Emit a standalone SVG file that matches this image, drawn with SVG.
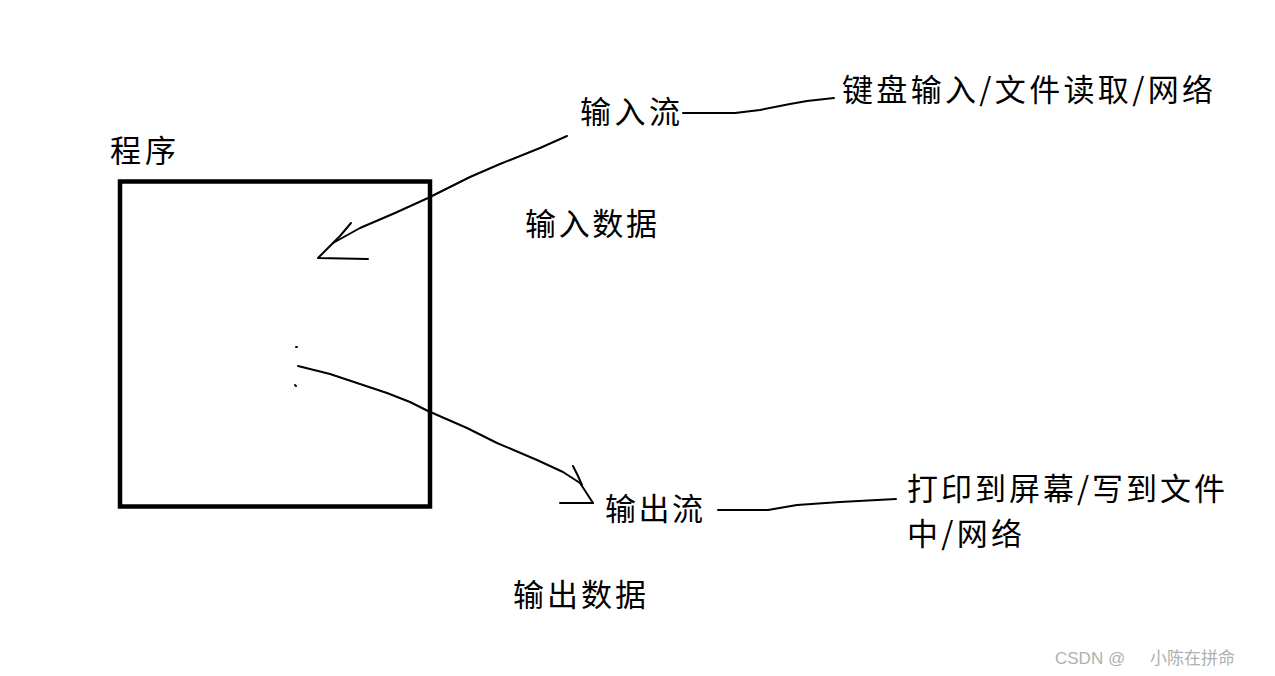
<svg xmlns="http://www.w3.org/2000/svg" width="1275" height="676" viewBox="0 0 1275 676">
<style>
.t{font-family:"Noto Sans CJK SC","Microsoft YaHei",sans-serif;font-size:31px;fill:#000}
.ln{fill:none;stroke:#000;stroke-width:2;stroke-linecap:round;stroke-linejoin:round}
.wm{font-family:"Liberation Sans","Noto Sans CJK SC",sans-serif;font-size:17px;fill:#b0b0b0}
</style>
<rect width="1275" height="676" fill="#fff"/>
<g id="program">
<rect x="120" y="181.5" width="310" height="325" fill="none" stroke="#000" stroke-width="4.5"/>
<text class="t" x="110" y="162" textLength="66" lengthAdjust="spacing">程序</text>
</g>
<g id="input-stream">
<text class="t" x="580" y="123" textLength="100" lengthAdjust="spacing">输入流</text>
</g>
<g id="input-source">
<text class="t" x="842" y="101" textLength="371" lengthAdjust="spacing">键盘输入/文件读取/网络</text>
</g>
<g id="input-data">
<text class="t" x="525" y="235" textLength="132" lengthAdjust="spacing">输入数据</text>
</g>
<g id="output-stream">
<text class="t" x="605" y="520" textLength="98" lengthAdjust="spacing">输出流</text>
</g>
<g id="output-target">
<text class="t" x="907" y="500" textLength="318" lengthAdjust="spacing">打印到屏幕/写到文件</text>
<text class="t" x="907" y="545" textLength="115" lengthAdjust="spacing">中/网络</text>
</g>
<g id="output-data">
<text class="t" x="513" y="606" textLength="133" lengthAdjust="spacing">输出数据</text>
</g>
<g id="connectors">
<path class="ln" d="M567,136 L540,148 L500,164 L470,177 L428,198 L395,213 L360,228 L333,243"/>
<path class="ln" d="M351,223 L340,236 L318,258 L368,259"/>
<path class="ln" d="M683,113 L735,113 L760,110 L790,104 L807,101 L834,98"/>
<path class="ln" d="M298,366 L330,374 L363,385 L387,393 L410,402 L428,411 L467,428 L497,443 L537,460 L563,472 L580,483 L593,503"/>
<path class="ln" d="M573,466 L578,476 L582,485"/>
<path class="ln" d="M560,503 L593,503"/>
<path class="ln" d="M718,510 L768,510 L797,505 L840,502 L896,499"/>
<path class="ln" d="M296,347 L297,347"/>
<path class="ln" d="M295,385 L296,386"/>
</g>
<text class="wm" x="1055" y="664">CSDN @<tspan x="1150">小陈在拼命</tspan></text>
</svg>
